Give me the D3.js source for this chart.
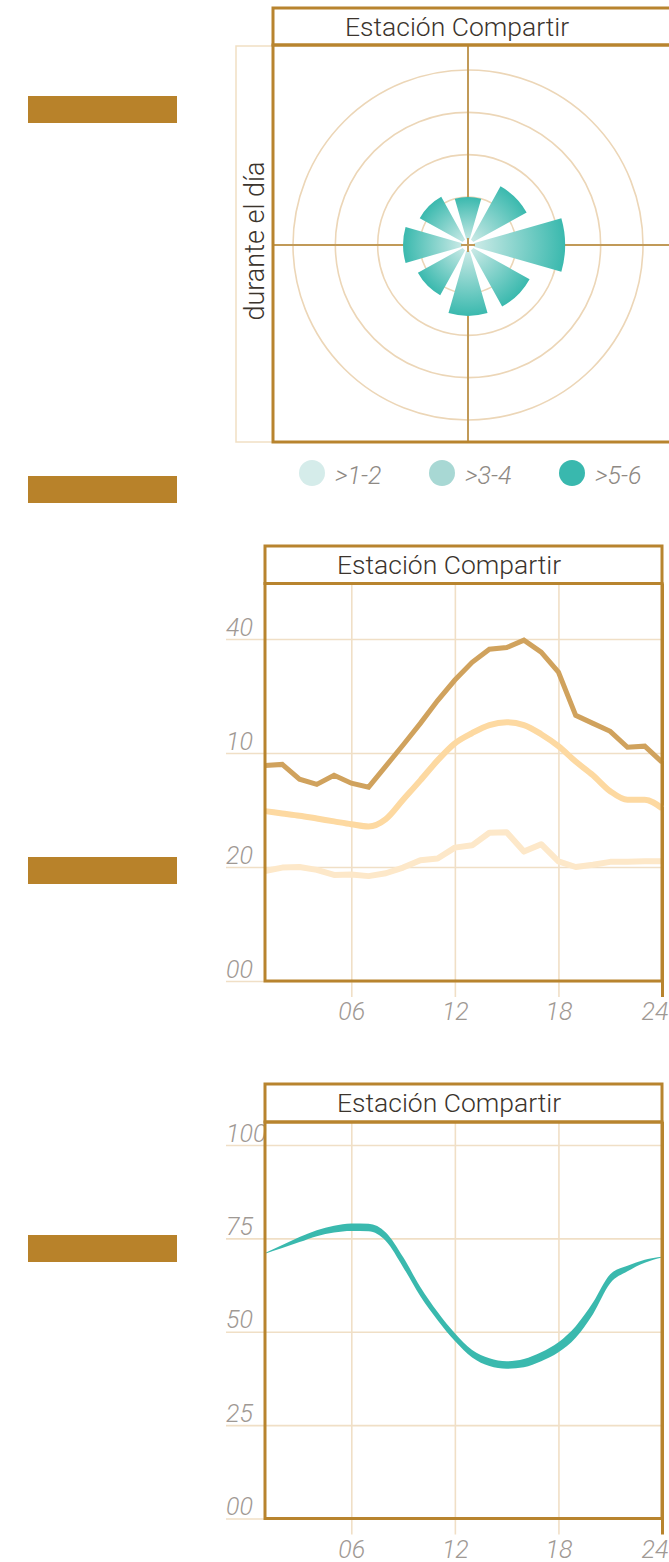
<!DOCTYPE html>
<html><head><meta charset="utf-8">
<script src="https://cdn.jsdelivr.net/npm/d3@7"></script>
<style>
html,body{margin:0;padding:0;background:#fff;}
svg{display:block;}
text{font-family:Roboto,"Open Sans",sans-serif;}
</style></head><body>
<svg id="chart" width="669" height="1562"></svg>
<script>
// ---------- data ----------
const stationTitle = "Estación Compartir";
const polarSideLabel = "durante el día";
const directions = ["N","NE","E","SE","S","SW","W","NW"];
const directionValues = [1.00, 1.45, 2.16, 1.53, 1.54, 1.22, 1.40, 1.17];
const ringValues = [1, 2, 3, 4];
const legendLabels = [">1-2", ">3-4", ">5-6"];
const legendColors = ["#d5ecea", "#a8d8d4", "#39b8ae"];

const hours = [1,2,3,4,5,6,7,8,9,10,11,12,13,14,15,16,17,18,19,20,21,22,23,24];
const seriesHigh = [37.8,38.0,35.4,34.5,36.1,34.7,34.0,37.7,41.4,45.2,49.2,52.8,55.9,58.2,58.5,59.8,57.7,54.2,46.6,45.2,43.8,41.0,41.2,38.4];
const seriesMid  = [29.8,29.4,29.0,28.5,28.0,27.5,27.1,28.4,31.8,35.2,38.7,41.7,43.5,44.9,45.4,44.9,43.3,41.2,38.5,36.1,33.3,31.8,31.8,30.3];
const seriesLow  = [19.3,19.9,20.0,19.5,18.6,18.7,18.4,18.9,19.9,21.2,21.5,23.4,23.8,26.0,26.1,22.7,24.0,21.0,20.0,20.4,20.9,20.9,21.0,21.0];
const lineTickValues = [0, 20, 40, 60];
const lineTickLabels = ["00", "20", "10", "40"];
const hourTickValues = [6, 12, 18, 24];
const hourTickLabels = ["06", "12", "18", "24"];

const bandUpper = [71.1,73.2,75.4,77.2,78.4,79.0,78.9,76.6,70.0,62.0,55.3,49.6,45.1,42.9,42.1,42.7,44.5,47.2,51.5,57.8,65.4,67.7,69.3,70.1];
const bandLower = [70.9,72.4,74.0,75.6,76.6,77.0,76.9,74.3,67.3,59.5,53.1,47.5,43.1,40.8,40.1,40.5,42.1,44.5,48.4,54.7,63.0,66.2,68.5,69.9];
const bandTickValues = [0, 25, 50, 75, 100];
const bandTickLabels = ["00", "25", "50", "75", "100"];

// ---------- styles ----------
const GOLD = "#b8842e";
const GRID = "#f0dfc6";
const RING = "#ecd6b7";
const TITLE_C = "#3b342d";
const LABEL_C = "#9f9994";
const TEAL = "#3ab9ae";

const svg = d3.select("#chart");

// decorative side bars
svg.selectAll("rect.sidebar").data([96, 476, 857, 1235]).join("rect")
  .attr("class","sidebar").attr("x",28).attr("y",d=>d).attr("width",149).attr("height",27)
  .attr("fill","#b8822a");

function titleBox(g, left, right, top, bottom) {
  g.append("rect").attr("x",left).attr("y",top).attr("width",right-left).attr("height",bottom-top)
    .attr("fill","none").attr("stroke",GOLD).attr("stroke-width",3);
  g.append("text").attr("x",left+72).attr("y",top+28).text(stationTitle)
    .attr("font-size",26.5).attr("font-weight",300).attr("fill",TITLE_C);
}

// ================= POLAR =================
(function(){
  const L = 273, R = 671, T = 8, TB = 45, B = 442;
  const cx = 468, cy = 245;
  const g = svg.append("g");
  // light side box
  g.append("rect").attr("x",236).attr("y",46).attr("width",L-236+20).attr("height",B-46)
    .attr("fill","none").attr("stroke","#f1dfc4").attr("stroke-width",1.5);
  g.append("rect").attr("x",L).attr("y",TB).attr("width",R-L).attr("height",B-TB).attr("fill","#fff");
  g.append("text").attr("transform",`translate(264,241) rotate(-90)`).attr("text-anchor","middle")
    .attr("font-size",27).attr("font-weight",300).attr("fill",TITLE_C).text(polarSideLabel);

  const r = d3.scaleLinear().domain([1,4]).range([48,175]);
  const pg = g.append("g").attr("transform",`translate(${cx},${cy})`);
  pg.selectAll("circle.ring").data(ringValues).join("circle").attr("class","ring")
    .attr("r",d=>r(d)).attr("fill","none").attr("stroke",RING).attr("stroke-width",1.6);
  // cross lines
  pg.append("line").attr("x1",0).attr("x2",0).attr("y1",TB-cy).attr("y2",B-cy).attr("stroke","#c19a58").attr("stroke-width",2);
  pg.append("line").attr("x1",L-cx).attr("x2",R-cx).attr("y1",0).attr("y2",0).attr("stroke","#c19a58").attr("stroke-width",2);

  const defs = svg.append("defs");
  const half = 16 * Math.PI/180;
  const arc = d3.arc().innerRadius(6);
  directions.forEach((dname,i)=>{
    const grad = defs.append("radialGradient").attr("id","wg"+i)
      .attr("gradientUnits","userSpaceOnUse").attr("cx",0).attr("cy",0).attr("r",r(directionValues[i]));
    grad.append("stop").attr("offset","0%").attr("stop-color","#d6eeeb");
    grad.append("stop").attr("offset","100%").attr("stop-color",TEAL);
  });
  pg.selectAll("path.wedge").data(directions.map((d,i)=>({dir:d,v:directionValues[i],i}))).join("path")
    .attr("class","wedge")
    .attr("d",d=>{
      const a = d.i*Math.PI/4;
      return arc({startAngle:a-half,endAngle:a+half,outerRadius:r(d.v)});
    })
    .attr("fill",d=>`url(#wg${d.i})`);
  // small center cross
  pg.append("line").attr("x1",-7).attr("x2",7).attr("y1",0).attr("y2",0).attr("stroke","#c19a58").attr("stroke-width",2);
  pg.append("line").attr("y1",-7).attr("y2",7).attr("x1",0).attr("x2",0).attr("stroke","#c19a58").attr("stroke-width",2);

  // frame
  g.append("rect").attr("x",L).attr("y",TB).attr("width",R-L).attr("height",B-TB)
    .attr("fill","none").attr("stroke",GOLD).attr("stroke-width",3);
  titleBox(g, L, R, T, TB);

  // legend
  const lx = d3.scaleLinear().domain([0,2]).range([312,572]);
  const lg = g.selectAll("g.leg").data(legendLabels).join("g").attr("class","leg")
    .attr("transform",(d,i)=>`translate(${lx(i)},473)`);
  lg.append("circle").attr("r",13).attr("fill",(d,i)=>legendColors[i]);
  lg.append("text").attr("x",23).attr("y",11).text(d=>d)
    .attr("font-size",25).attr("font-style","italic").attr("font-weight",300).attr("fill","#8e8984");
})();

// ================= generic line-panel scaffolding =================
function panel(top, titleBottom, bottom, yDomain, yRange, tickVals, tickLabs) {
  const L = 265, R = 662;
  const g = svg.append("g");
  const x = d3.scaleLinear().domain([1,24]).range([L,R]);
  const y = d3.scaleLinear().domain(yDomain).range(yRange);
  // horizontal grid + labels
  const ya = d3.axisRight(y).tickValues(tickVals).tickSize(R-226).tickFormat((d,i)=>tickLabs[i]);
  const yg = g.append("g").attr("transform","translate(226,0)").call(ya);
  yg.select(".domain").remove();
  yg.selectAll(".tick line").attr("stroke",GRID).attr("stroke-width",1.6);
  yg.selectAll(".tick text").attr("x",0).attr("dy",-4).attr("text-anchor","start")
    .attr("font-size",25).attr("font-style","italic").attr("font-weight",300).attr("fill",LABEL_C)
    .attr("font-family","Roboto, sans-serif");
  // vertical grid + labels
  const xa = d3.axisBottom(x).tickValues(hourTickValues).tickSize(bottom+16-titleBottom).tickFormat((d,i)=>hourTickLabels[i]);
  const xg = g.append("g").attr("transform",`translate(0,${titleBottom})`).call(xa);
  xg.select(".domain").remove();
  xg.selectAll(".tick line").attr("stroke",(d)=>d===24?GOLD:GRID).attr("stroke-width",(d)=>d===24?3:1.6);
  xg.selectAll(".tick text").attr("y",bottom+39-titleBottom).attr("dy",0)
    .attr("text-anchor",d=>d===24?"end":"middle").attr("dx",d=>d===24?6:0)
    .attr("font-size",25).attr("font-style","italic").attr("font-weight",300).attr("fill",LABEL_C)
    .attr("font-family","Roboto, sans-serif");
  return {g, x, y, L, R, top, titleBottom, bottom};
}
function frame(p) {
  const {g,L,R,top,titleBottom,bottom} = p;
  g.append("rect").attr("x",L).attr("y",titleBottom).attr("width",R-L).attr("height",bottom-titleBottom)
    .attr("fill","none").attr("stroke",GOLD).attr("stroke-width",3);
  titleBox(g, L, R, top, titleBottom);
}

// ================= LINE CHART =================
(function(){
  const p = panel(546, 583.5, 981, [0,60], [981,639], lineTickValues, lineTickLabels);
  const lineLin = d3.line().x((d,i)=>p.x(hours[i])).y(d=>p.y(d));
  const lineSmooth = d3.line().x((d,i)=>p.x(hours[i])).y(d=>p.y(d)).curve(d3.curveMonotoneX);
  p.g.append("path").datum(seriesLow).attr("d",lineLin).attr("fill","none")
    .attr("stroke","#fde8c9").attr("stroke-width",6).attr("stroke-linejoin","round");
  p.g.append("path").datum(seriesMid).attr("d",lineSmooth).attr("fill","none")
    .attr("stroke","#fdd9a1").attr("stroke-width",6).attr("stroke-linejoin","round");
  p.g.append("path").datum(seriesHigh).attr("d",lineLin).attr("fill","none")
    .attr("stroke","#d0a25d").attr("stroke-width",5).attr("stroke-linejoin","miter");
  frame(p);
})();

// ================= BAND CHART =================
(function(){
  const p = panel(1084, 1122, 1518.5, [0,100], [1518.5,1145], bandTickValues, bandTickLabels);
  const area = d3.area().x((d,i)=>p.x(hours[i])).y0((d,i)=>p.y(bandLower[i])).y1((d,i)=>p.y(bandUpper[i]))
    .curve(d3.curveMonotoneX);
  p.g.append("path").datum(bandUpper).attr("d",area).attr("fill",TEAL);
  frame(p);
})();
</script>
</body></html>
